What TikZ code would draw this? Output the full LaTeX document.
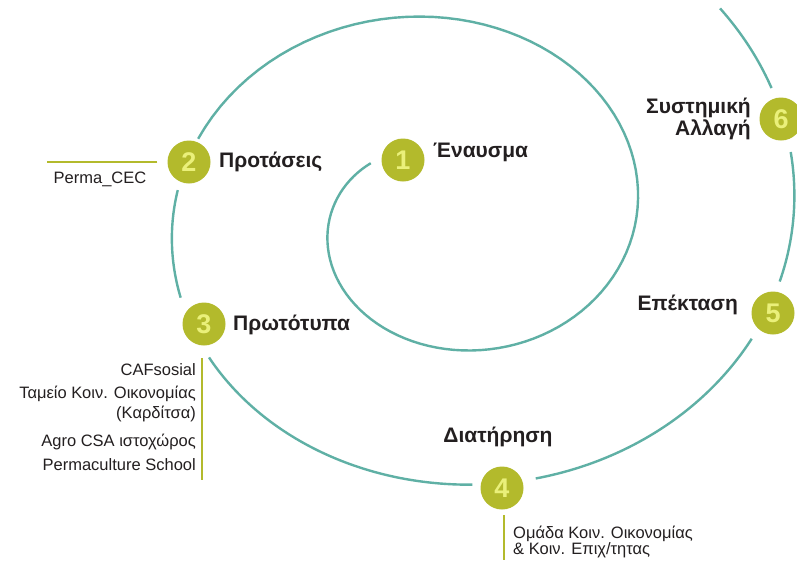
\documentclass[tikz,border=0pt]{standalone}
\usepackage{fontspec}
\setmainfont{Liberation Sans}
\usetikzlibrary{positioning}
\definecolor{SpiralTeal}{HTML}{5FB0A5}
\definecolor{OliveGreen}{HTML}{B3BA2C}
\definecolor{PaleYellow}{HTML}{EAF07A}
\definecolor{DarkText}{HTML}{231F20}
\newcommand{\spiralpart}[2]{% #1 = angulo inicial, #2 = angulo final
  \draw[spiral] plot[domain=#1:#2, samples=120, variable=\t]
    ({444+(35.5+0.4361*\t)*cos(\t)}, {217-0.86*(35.5+0.4361*\t)*sin(\t)});
}

\begin{document}
\begin{tikzpicture}[
    x=1pt, y=-1pt,
    spiral/.style={draw=SpiralTeal, line width=2.4pt},
    num/.style={circle, fill=OliveGreen, minimum size=43pt, inner sep=0,
        text=PaleYellow, font=\fontsize{27}{27}\selectfont\bfseries},
    stage/.style={font=\fontsize{21}{22}\selectfont\bfseries, text=DarkText, inner sep=0},
    item/.style={font=\fontsize{16.5}{20}\selectfont, text=DarkText, inner sep=0},
    tick/.style={draw=OliveGreen, line width=1.6pt},
]
\fill[white] (0,0) rectangle (797,560);
\useasboundingbox (0,0) rectangle (797,560);
\clip (0,0) rectangle (797,560);

% ===== espiral =====
\foreach \a/\b in {139.5/519.7, 533.3/559.6, 574.8/635.2, 646.8/695.3, 707.4/732.3, 744.6/761.3}{
    \spiralpart{\a}{\b}
}

% ===== etapas =====
\node[num] (n1) at (403,160) {1};
\node[num] (n2) at (189,162) {2};
\node[num] (n3) at (204,324) {3};
\node[num] (n4) at (502,488) {4};
\node[num] (n5) at (773,313) {5};
\node[num] (n6) at (781,119) {6};

\node[stage, anchor=base west] (t1) at (433,157) {Έναυσμα};
\node[stage, anchor=base west] (t2) at (219,167) {Προτάσεις};
\node[stage, anchor=base west] (t3) at (233,330) {Πρωτότυπα};
\node[stage, anchor=base] (t4) at (498,442) {Διατήρηση};
\node[stage, anchor=base east] (t5) at (738,310) {Επέκταση};
% base = linea de abajo
\node[stage, anchor=base east, align=right] (t6) at (751,135) {Συστημική\\Αλλαγή};

% ===== ejemplos =====
\draw[tick] ([xshift=-10pt]n2.west) -- ++(-110,0) coordinate (c2);
\node[item, anchor=base] (e2) at (100,183) {Perma\_CEC};

\draw[tick] (202,358) coordinate (c3a) -- (202,480) coordinate (c3b);
\foreach \y/\txt [count=\i] in {375/CAFsosial, 418/{Ταμείο Κοιν. Οικονομίας\\(Καρδίτσα)},
        446/Agro CSA ιστοχώρος, 470/Permaculture School}
    \node[item, anchor=base east, align=right] (e3\i) at (196,\y) {\txt};

\draw[tick] (504,515) coordinate (c4a) -- (504,560) coordinate (c4b);
\node[item, anchor=base west, align=left, font=\fontsize{16.5}{16}\selectfont] (e4) at (513,554)
    {Ομάδα Κοιν. Οικονομίας\\\& Κοιν. Επιχ/τητας};

\end{tikzpicture}
\end{document}
